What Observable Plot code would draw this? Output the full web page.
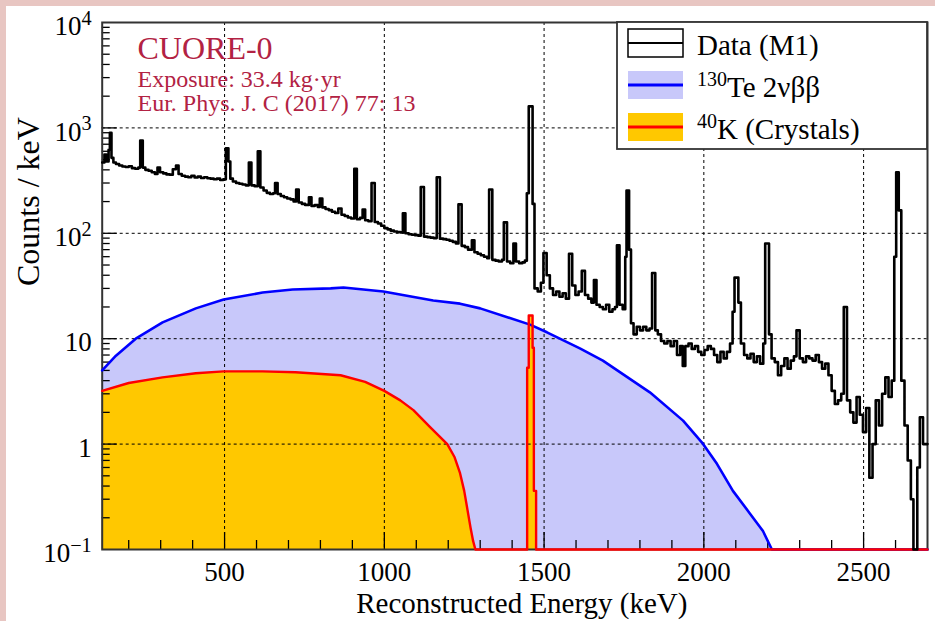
<!DOCTYPE html>
<html><head><meta charset="utf-8">
<script src="https://cdn.jsdelivr.net/npm/d3@7"></script>
<script src="https://cdn.jsdelivr.net/npm/@observablehq/plot@0.6"></script>
<style>
html,body{margin:0;padding:0;background:#fff;}
#wrap{width:935px;height:621px;box-sizing:border-box;padding:6px 0 0 6px;background:#e8c6c2;overflow:hidden;}
#wrap svg{display:block;background:#fff;}
</style></head><body><div id="wrap"></div>
<script>
// ---- Data (M1) histogram: bin low edges (keV) and counts/keV ----
const dataE = [117,124,130,137,141,146,152,160,170,180,190,200,210,220,230,236,244,252,262,272,282,290,298,308,318,328,338,348,356,366,376,386,396,406,416,426,436,446,456,466,476,486,496,504,512,518,526,536,546,556,566,576,584,594,604,612,622,632,642,652,658,666,676,686,696,706,716,724,732,742,752,764,772,782,792,798,806,816,826,836,846,856,866,876,886,896,906,914,924,932,940,950,960,970,980,990,1000,1010,1020,1030,1040,1050,1058,1066,1076,1086,1096,1106,1114,1124,1134,1144,1154,1164,1174,1184,1194,1204,1214,1224,1232,1242,1252,1262,1274,1282,1292,1302,1312,1322,1328,1338,1348,1358,1368,1374,1384,1394,1404,1412,1422,1432,1440,1446,1452,1464,1470,1480,1490,1498,1508,1518,1528,1538,1548,1558,1568,1578,1588,1598,1608,1618,1628,1638,1648,1656,1664,1674,1684,1694,1704,1714,1722,1728,1736,1746,1754,1758,1766,1772,1780,1790,1800,1810,1820,1830,1838,1848,1856,1866,1876,1886,1896,1906,1916,1926,1934,1942,1952,1962,1972,1982,1992,2002,2012,2022,2032,2042,2052,2062,2072,2082,2090,2096,2108,2116,2126,2136,2146,2156,2166,2176,2186,2192,2204,2212,2222,2232,2242,2252,2262,2272,2282,2290,2300,2310,2320,2330,2340,2350,2360,2370,2380,2390,2400,2410,2420,2430,2438,2448,2458,2468,2478,2488,2498,2508,2518,2528,2538,2548,2558,2568,2578,2588,2596,2602,2610,2618,2628,2638,2648,2656,2668,2676,2686,2700];
const dataC = [470,560,480,620,900,520,470,455,440,430,425,432,415,410,420,760,420,400,392,380,365,420,380,370,362,360,405,440,365,352,345,340,352,338,345,335,340,333,330,326,330,320,325,640,480,330,310,300,295,290,285,470,285,280,600,272,255,242,236,240,300,236,226,220,214,210,200,260,196,190,186,220,182,185,178,214,176,170,166,160,156,172,150,146,141,138,410,136,140,168,133,130,300,128,124,118,112,109,106,104,103,102,155,100,98,97,96,95,275,93,92,91,90,340,89,88,87,85,83,80,188,76,74,70,86,66,64,62,60,58,260,56,55,54,56,127,54,52,80,54,52,53,55,240,1600,190,30,28,34,65,40,30,26,28,25,27,24,64,32,26,28,44,26,24,22,36,21,20,19,21,18,19,20,77,21,19,60,255,70,14,11,13,12,13,12,12.5,42,12,11,9.5,9,9.5,8.5,9.5,7,8.5,5.5,8.5,9,8,8.5,7.5,7,7.8,8.5,8,7,6,7.5,6.5,7.5,9,18,38,22,9,7,6.5,7.2,6,6.8,5.8,9,80,11,6.5,6,4.5,5.5,6.5,5.2,6.2,6.8,12,6.5,6,6.8,6.5,6.2,7,6,5.2,5.8,4.5,3.2,2.4,2.6,3.0,20,2.6,2.0,1.6,2.8,1.9,1.3,2.2,0.48,1.0,2.6,1.5,3.0,4.3,2.8,4.0,60,380,165,4.0,1.5,0.7,0.3,0,0.6,1.8,1.0,1.0];

// ---- 130Te 2vbb model ----
const teE = [117,160,222,306,410,497,619,713,832,872,997,1153,1237,1300,1456,1509,1612,1684,1831,1935,1997,2041,2091,2144,2185,2213,2220,2700];
const teC = [5.0,6.9,10.0,14.3,19.4,23.5,27.4,29.3,30.0,30.6,28.0,23.0,21.5,19.4,13.6,11.5,8.1,6.2,3.1,1.67,1.01,0.65,0.36,0.22,0.15,0.1,0,0];

// ---- 40K (Crystals) model ----
const kE = [117,200,306,410,497,619,722,863,940,1000,1050,1091,1144,1197,1220,1237,1250,1259,1270,1278,1285,1290,1447,1447,1452,1452,1464,1464,1468,1468,1475,1475,2700];
const kC = [3.2,3.8,4.3,4.7,4.9,4.9,4.8,4.5,3.9,3.2,2.6,2.1,1.44,1.0,0.75,0.53,0.36,0.25,0.16,0.12,0.1,0,0,5.3,5.3,16.6,16.6,8.2,8.2,0.36,0.36,0,0];

// ---- axes ----
const xMajor = [500,1000,1500,2000,2500];
const xMinor = [200,300,400,600,700,800,900,1100,1200,1300,1400,1600,1700,1800,1900,2100,2200,2300,2400,2600];
const yDecades = [0.1,1,10,100,1000,10000];
const yLabels = ["10^\u22121","1","10","10^2","10^3","10^4"];
const yGrid = [1,10,100,1000];
const yMinor = [];
for (const d of [0.1,1,10,100,1000]) for (let m = 2; m <= 9; m++) yMinor.push(+(m*d).toPrecision(3));

const xTitle = "Reconstructed Energy (keV)";
const yTitle = "Counts / keV";
const infoLines = ["CUORE-0", "Exposure: 33.4 kg\u00b7yr", "Eur. Phys. J. C (2017) 77: 13"];
const legendSup = ["", "130", "40"];
const legendText = ["Data (M1)", "Te 2\u03bd\u03b2\u03b2", "K (Crystals)"];

const FLOOR = 0.1;
const hist = dataE.map((e,i)=>({e, c: Math.max(dataC[i], FLOOR)}));
const te = teE.map((e,i)=>({e, c: Math.max(teC[i], FLOOR)}));
const k40 = kE.map((e,i)=>({e, c: Math.max(kC[i], FLOOR)}));

const W = 929, H = 615, ML = 95.7, MT = 16, MR = 8, MB = 72;
const FW = W - ML - MR, FH = H - MT - MB;
const crimson = "#b22243";
const lav = "#c8c8fa", orange = "#ffc800";
const FONT = "'Liberation Serif','Times New Roman',serif";

const svg = Plot.plot({
  width: W, height: H, marginLeft: ML, marginTop: MT, marginRight: MR, marginBottom: MB,
  style: {fontFamily: FONT, background: "white", color: "black", overflow: "visible"},
  x: {domain: [117, 2700], axis: null},
  y: {type: "log", domain: [0.1, 10000], axis: null},
  marks: [
    Plot.areaY(te, {x: "e", y1: FLOOR, y2: "c", fill: lav}),
    Plot.areaY(k40, {x: "e", y1: FLOOR, y2: "c", fill: orange}),
    Plot.ruleX(xMajor, {x: d=>d, stroke: "#000", strokeWidth: 1, strokeDasharray: "3,3"}),
    Plot.ruleY(yGrid, {y: d=>d, stroke: "#000", strokeWidth: 1, strokeDasharray: "3,3"}),
    Plot.tickX(xMinor, {x: d=>d, insetTop: FH - 9, stroke: "#000", strokeWidth: 1.3}),
    Plot.tickX(xMajor, {x: d=>d, insetTop: FH - 17, stroke: "#000", strokeWidth: 1.3}),
    Plot.tickY(yMinor, {y: d=>d, insetRight: FW - 8, stroke: "#000", strokeWidth: 1.3}),
    Plot.tickY(yGrid, {y: d=>d, insetRight: FW - 15, stroke: "#000", strokeWidth: 1.3}),
    Plot.frame({stroke: "#333", strokeWidth: 2}),
    Plot.line(te, {x: "e", y: "c", stroke: "#0000ff", strokeWidth: 2.6}),
    Plot.line(k40, {x: "e", y: "c", stroke: "#ff0000", strokeWidth: 2.4}),
    Plot.line(hist, {x: "e", y: "c", curve: "step-after", stroke: "#000", strokeWidth: 2.6}),
    Plot.text(xMajor, {x: d=>d, text: d=>String(d), frameAnchor: "bottom", lineAnchor: "top", dy: 12, fontSize: 27}),
    Plot.text(yDecades, {y: d=>d, text: (d,i)=>yLabels[i], frameAnchor: "left", textAnchor: "end", lineAnchor: "middle", dx: -10.5, dy: 4, fontSize: 27}),
    Plot.text([xTitle], {frameAnchor: "bottom", lineAnchor: "top", dx: 7, dy: 43, fontSize: 29}),
    Plot.text([yTitle], {frameAnchor: "left", rotate: -90, lineAnchor: "top", dx: -86.4, fontSize: 32}),
    Plot.text([infoLines[0]], {frameAnchor: "top-left", textAnchor: "start", lineAnchor: "top", dx: 35.3, dy: 14, fontSize: 32, fill: crimson}),
    Plot.text([infoLines[1]], {frameAnchor: "top-left", textAnchor: "start", lineAnchor: "top", dx: 35.3, dy: 47, fontSize: 24, fill: crimson}),
    Plot.text([infoLines[2]], {frameAnchor: "top-left", textAnchor: "start", lineAnchor: "top", dx: 35.3, dy: 71.5, fontSize: 24, fill: crimson})
  ]
});

// superscripts for y tick labels
d3.select(svg).selectAll("text").each(function(){
  const t = this.textContent;
  if (!t.includes("^")) return;
  const [b, e] = t.split("^");
  const s = d3.select(this);
  s.text(null);
  s.append("tspan").text(b);
  s.append("tspan").attr("dy", "-0.5em").attr("font-size", "75%").text(e);
});

// legend box
const LX = 611, LY = 16, LW = 310, LH = 127;
const lg = d3.select(svg).append("g").attr("font-family", FONT).attr("text-anchor", "start");
lg.append("rect").attr("x", LX).attr("y", LY).attr("width", LW).attr("height", LH)
  .attr("fill", "white").attr("stroke", "#333").attr("stroke-width", 1.8);
const rowY = [37, 79, 121];
const symFill = ["white", lav, orange];
const symLine = ["#000", "#0000ff", "#ff0000"];
rowY.forEach((cy, i) => {
  lg.append("rect").attr("x", 622).attr("y", cy - 14).attr("width", 55).attr("height", 28)
    .attr("fill", symFill[i]).attr("stroke", i === 0 ? "#000" : "none").attr("stroke-width", 1.5);
  lg.append("line").attr("x1", 622).attr("x2", 677).attr("y1", cy).attr("y2", cy)
    .attr("stroke", symLine[i]).attr("stroke-width", i === 0 ? 2 : 3);
  const t = lg.append("text").attr("x", 691).attr("y", cy + 12).attr("font-size", 29).attr("fill", "#000");
  if (legendSup[i]) {
    t.append("tspan").attr("font-size", 20).attr("dy", -11).text(legendSup[i]);
    t.append("tspan").attr("dy", 11).text(legendText[i]);
  } else {
    t.text(legendText[i]);
  }
});

document.getElementById("wrap").appendChild(svg);
</script></body></html>
